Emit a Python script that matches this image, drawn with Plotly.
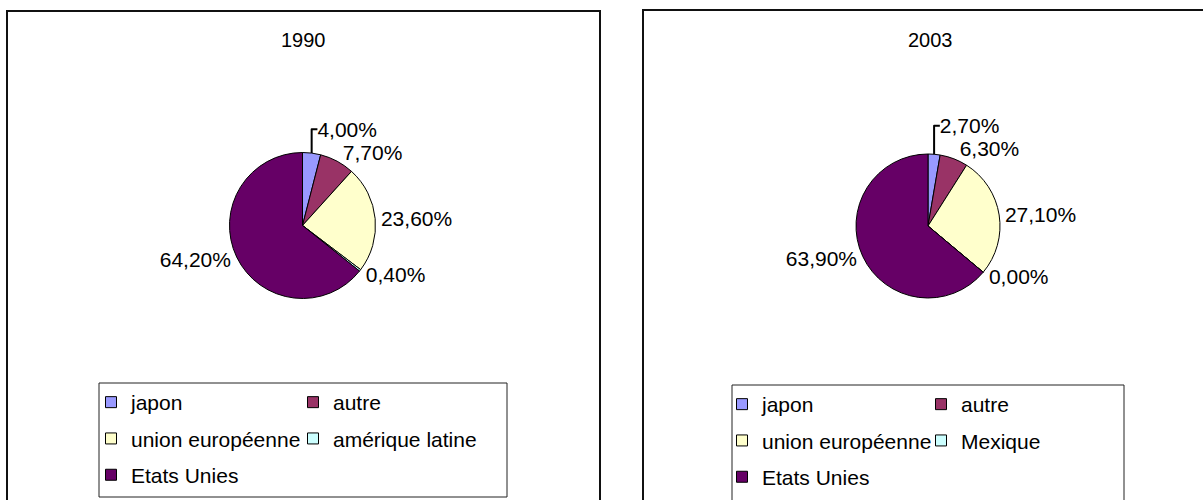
import plotly.graph_objects as go

# ---- data ----
titles = ["1990", "2003"]
labels_1990 = ["japon", "autre", "union européenne", "amérique latine", "Etats Unies"]
values_1990 = [4.0, 7.7, 23.6, 0.4, 64.2]
labels_2003 = ["japon", "autre", "union européenne", "Mexique", "Etats Unies"]
values_2003 = [2.7, 6.3, 27.1, 0.0, 63.9]
colors = ["#9999FF", "#993366", "#FFFFCC", "#CCFFFF", "#660066"]

W, H = 1203, 500
FONT = "Liberation Sans, Arial, sans-serif"


def fx(px):
    return px / W


def fy(px):
    return 1 - px / H


fig = go.Figure()

# pies: (center x, center y, radius) in pixels
pie_geom = [(302.5, 225.5, 73), (928, 226, 72)]
for (cx, cy, r), labels, values in zip(pie_geom, [labels_1990, labels_2003], [values_1990, values_2003]):
    fig.add_trace(go.Pie(
        labels=labels, values=values, sort=False, direction="clockwise", rotation=0,
        marker=dict(colors=colors, line=dict(color="black", width=1)),
        texttemplate="%{value:.2f}%", textposition="outside",
        outsidetextfont=dict(family=FONT, size=21, color="black"),
        showlegend=False, hoverinfo="label+percent",
        domain=dict(x=[fx(cx - r), fx(cx + r)], y=[fy(cy + r), fy(cy - r)]),
    ))

# legends: two columns per panel (column 1: items 0,2,4 ; column 2: items 1,3)
legend_names = [["legend", "legend2"], ["legend3", "legend4"]]
for p, labels in enumerate([labels_1990, labels_2003]):
    for i, (lab, col) in enumerate(zip(labels, colors)):
        fig.add_trace(go.Scatter(
            x=[None], y=[None], mode="markers", name=lab,
            marker=dict(symbol="square", size=11, color=col, line=dict(color="black", width=1)),
            legend=legend_names[p][i % 2], legendgroup=f"p{p}i{i}", showlegend=True,
            hoverinfo="skip",
        ))

leg_common = dict(orientation="v", bgcolor="rgba(0,0,0,0)", borderwidth=0,
                  font=dict(family=FONT, size=21, color="black"),
                  traceorder="grouped", tracegroupgap=6, xanchor="left", yanchor="top",
                  itemclick=False, itemdoubleclick=False)

fig.update_layout(
    width=W, height=H,
    margin=dict(l=0, r=0, t=0, b=0, autoexpand=False),
    paper_bgcolor="white", plot_bgcolor="white",
    separators=", ",
    font=dict(family=FONT, color="black"),
    xaxis=dict(visible=False), yaxis=dict(visible=False),
    legend=dict(x=fx(91), y=fy(382), **leg_common),
    legend2=dict(x=fx(293), y=fy(382), **leg_common),
    legend3=dict(x=fx(722), y=fy(384), **leg_common),
    legend4=dict(x=fx(921), y=fy(384), **leg_common),
    annotations=[
        dict(text=titles[0], x=fx(303), y=fy(40), xref="paper", yref="paper",
             showarrow=False, xanchor="center", yanchor="middle",
             font=dict(family=FONT, size=20, color="black")),
        dict(text=titles[1], x=fx(930), y=fy(40), xref="paper", yref="paper",
             showarrow=False, xanchor="center", yanchor="middle",
             font=dict(family=FONT, size=20, color="black")),
    ],
    shapes=[
        # panel frames
        dict(type="rect", xref="paper", yref="paper", x0=fx(7), x1=fx(600), y0=-0.1, y1=fy(11),
             line=dict(color="#111111", width=2), layer="below"),
        dict(type="rect", xref="paper", yref="paper", x0=fx(643), x1=1.1, y0=-0.1, y1=fy(10),
             line=dict(color="#111111", width=2), layer="below"),
        # legend frames
        dict(type="rect", xref="paper", yref="paper", x0=fx(99), x1=fx(507), y0=fy(497), y1=fy(383),
             line=dict(color="#222222", width=1), layer="below"),
        dict(type="rect", xref="paper", yref="paper", x0=fx(732), x1=fx(1124), y0=-0.1, y1=fy(385),
             line=dict(color="#222222", width=1), layer="below"),
    ],
)

fig.write_html("out.html", config={"displayModeBar": False},
               post_script="document.body.style.margin='0';document.body.style.overflow='hidden';")
